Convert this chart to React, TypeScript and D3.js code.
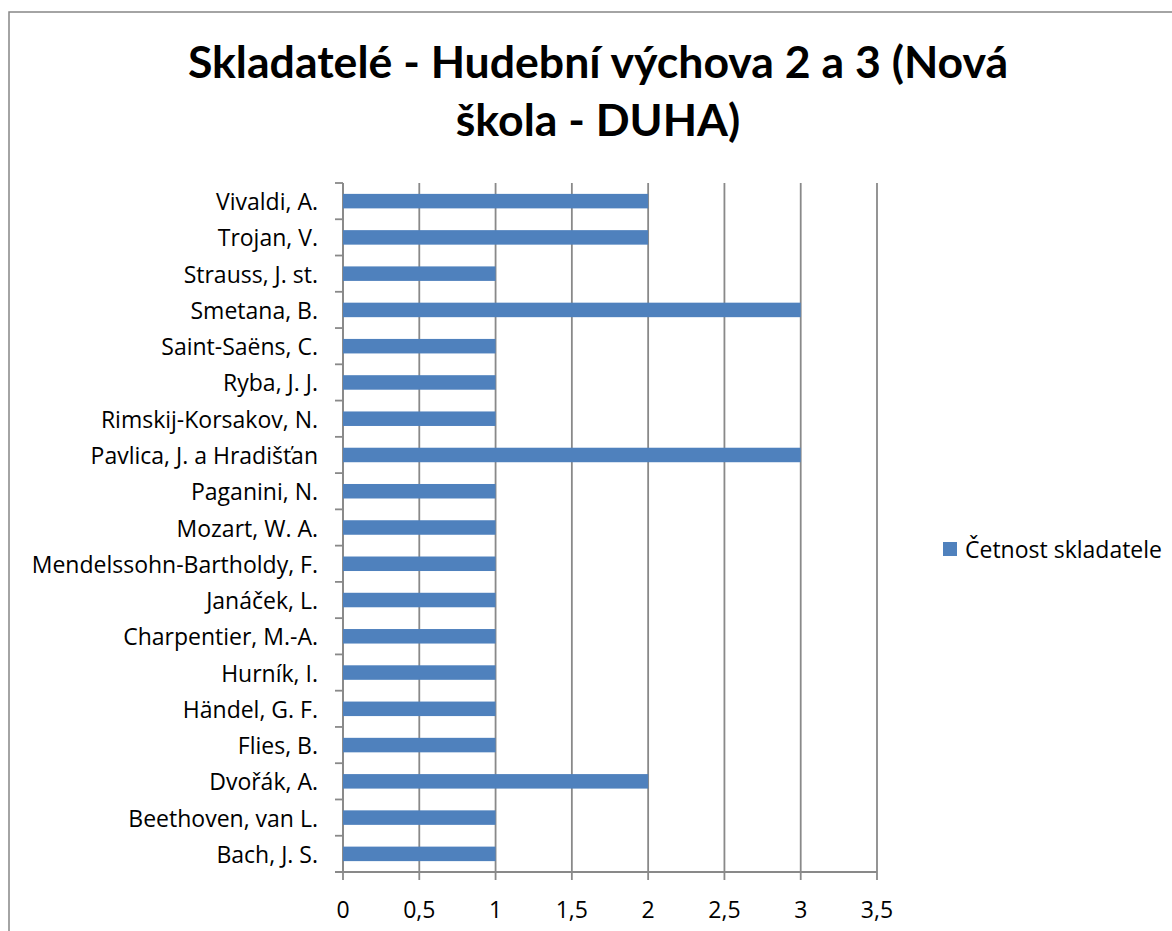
import { useMemo } from "react";
import * as d3 from "d3";

const WIDTH = 1172;
const HEIGHT = 931;
const PLOT = { left: 343, right: 877, top: 183, bottom: 872 };
const FONT = "'Open Sans', Lato, sans-serif";
const TITLE_FONT = "Lato, 'Open Sans', sans-serif";
const LABEL_SIZE = 23;

// categories, bottom to top (as in the source sheet)
const composers = [
  "Bach, J. S.",
  "Beethoven, van L.",
  "Dvořák, A.",
  "Flies, B.",
  "Händel, G. F.",
  "Hurník, I.",
  "Charpentier, M.-A.",
  "Janáček, L.",
  "Mendelssohn-Bartholdy, F.",
  "Mozart, W. A.",
  "Paganini, N.",
  "Pavlica, J. a Hradišťan",
  "Rimskij-Korsakov, N.",
  "Ryba, J. J.",
  "Saint-Saëns, C.",
  "Smetana, B.",
  "Strauss, J. st.",
  "Trojan, V.",
  "Vivaldi, A.",
];
const counts = [1, 1, 2, 1, 1, 1, 1, 1, 1, 1, 1, 3, 1, 1, 1, 3, 1, 2, 2];
const xTicks = [0, 0.5, 1, 1.5, 2, 2.5, 3, 3.5];
const titleLines = ["Skladatelé - Hudební výchova 2 a 3 (Nová", "škola - DUHA)"];
const seriesName = "Četnost skladatele";

const BAR_COLOR = "#4F81BD";
const GRID_COLOR = "#898989";

export default function App() {
  // y is the band scale since the bars are horizontal; first category sits at the bottom
  const yScale = useMemo(
    () =>
      d3
        .scaleBand<string>()
        .domain([...composers].reverse())
        .range([PLOT.top, PLOT.bottom])
        .paddingInner(0.6)
        .paddingOuter(0.3),
    []
  );
  const xScale = useMemo(
    () => d3.scaleLinear().domain([0, 3.5]).range([PLOT.left, PLOT.right]),
    []
  );

  const step = (PLOT.bottom - PLOT.top) / composers.length;
  const boundaries = d3.range(composers.length + 1).map((i) => PLOT.top + i * step);

  const fmt = (v: number) => String(v).replace(".", ",");

  return (
    <svg
      width={WIDTH}
      height={HEIGHT}
      style={{ position: "absolute", left: 0, top: 0, background: "#fff" }}
      fontFamily={FONT}
    >
      {/* chart frame */}
      <path
        d={`M9,${HEIGHT + 2} L9,12 L${WIDTH + 2},12`}
        fill="none"
        stroke="#878787"
        strokeWidth={1.5}
      />

      {titleLines.map((t, i) => (
        <text
          key={i}
          x={598}
          y={78 + i * 58}
          textAnchor="middle"
          fontSize={44.6}
          fontWeight="bold"
          fontFamily={TITLE_FONT}
          fill="#000"
        >
          {t}
        </text>
      ))}

      {/* vertical grid + x ticks */}
      {xTicks.map((v) => (
        <g key={v}>
          <line
            x1={xScale(v)}
            x2={xScale(v)}
            y1={PLOT.top}
            y2={PLOT.bottom + 8}
            stroke={GRID_COLOR}
            strokeWidth={1.8}
          />
          <text
            x={xScale(v)}
            y={PLOT.bottom + 37}
            textAnchor="middle"
            dominantBaseline="central"
            fontSize={LABEL_SIZE}
            fill="#000"
          >
            {fmt(v)}
          </text>
        </g>
      ))}

      {/* y axis and tick marks */}
      <line x1={PLOT.left} x2={PLOT.left} y1={PLOT.top} y2={PLOT.bottom} stroke={GRID_COLOR} strokeWidth={1.8} />
      <line x1={PLOT.left - 8} x2={PLOT.right} y1={PLOT.bottom} y2={PLOT.bottom} stroke={GRID_COLOR} strokeWidth={1.8} />
      {boundaries.map((y, i) => (
        <line key={i} x1={PLOT.left - 8} x2={PLOT.left} y1={y} y2={y} stroke={GRID_COLOR} strokeWidth={1.8} />
      ))}

      {/* bars */}
      {composers.map((name, i) => {
        const y = yScale(name)!;
        return (
          <g key={name}>
            <rect
              x={xScale(0)}
              y={y}
              width={xScale(counts[i]) - xScale(0)}
              height={yScale.bandwidth()}
              fill={BAR_COLOR}
            />
            <text
              x={318}
              y={y + yScale.bandwidth() / 2}
              textAnchor="end"
              dominantBaseline="central"
              fontSize={LABEL_SIZE}
              fill="#000"
            >
              {name}
            </text>
          </g>
        );
      })}

      {/* legend */}
      <rect x={943} y={542} width={14} height={14} fill={BAR_COLOR} />
      <text x={965} y={549} dominantBaseline="central" fontSize={LABEL_SIZE} fill="#000">
        {seriesName}
      </text>
    </svg>
  );
}
